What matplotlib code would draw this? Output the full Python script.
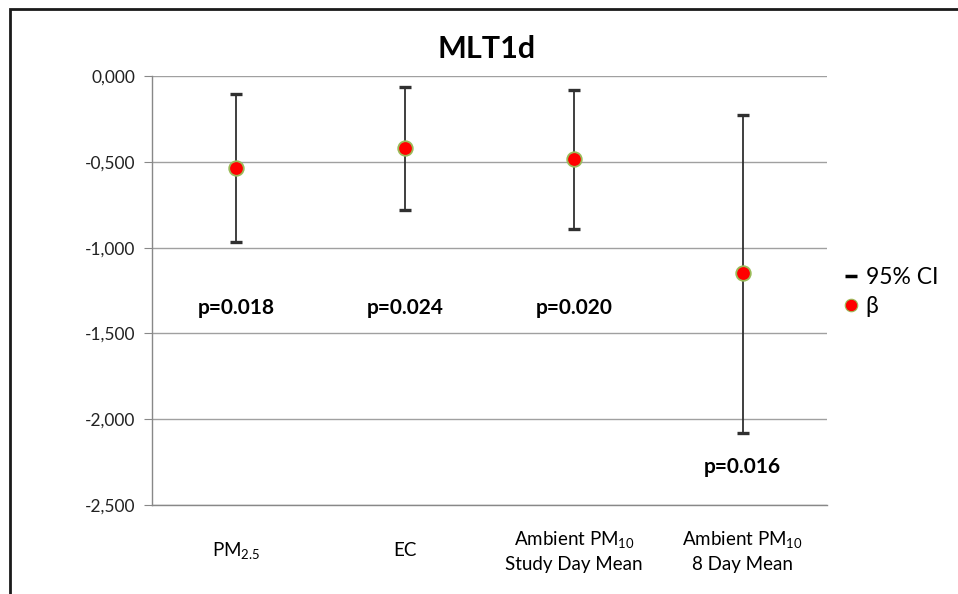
import matplotlib
matplotlib.use('Agg')
import matplotlib.pyplot as plt
from matplotlib.lines import Line2D
from matplotlib.patches import Rectangle
from matplotlib.ticker import FuncFormatter

plt.rcParams['font.family'] = ['Lato', 'DejaVu Sans']
plt.rcParams['mathtext.fontset'] = 'custom'
plt.rcParams['mathtext.rm'] = 'Lato'
plt.rcParams['mathtext.default'] = 'regular'

# data
categories = ['PM$_{2.5}$', 'EC', 'Ambient PM$_{10}$\nStudy Day Mean', 'Ambient PM$_{10}$\n8 Day Mean']
beta = [-0.536, -0.421, -0.484, -1.148]
ci_upper = [-0.105, -0.066, -0.082, -0.227]
ci_lower = [-0.970, -0.781, -0.892, -2.081]
p_labels = ['p=0.018', 'p=0.024', 'p=0.020', 'p=0.016']
p_y = [-1.352, -1.352, -1.352, -2.278]
y_ticks = [0.0, -0.5, -1.0, -1.5, -2.0, -2.5]

fig = plt.figure(figsize=(9.58, 5.94), dpi=100)
ax = fig.add_axes([0.1587, 0.1498, 0.7046, 0.7222])

x = list(range(len(categories)))
err_low = [b - lo for b, lo in zip(beta, ci_lower)]
err_high = [hi - b for b, hi in zip(beta, ci_upper)]

ax.errorbar(x, beta, yerr=[err_low, err_high], fmt='none', ecolor='#303030',
            elinewidth=1.3, capsize=4, capthick=2.4, zorder=3)
ax.plot(x, beta, 'o', color='red', markersize=10.5, markeredgecolor='#9BBB59',
        markeredgewidth=1.3, linestyle='none', zorder=4)

for xi, txt, yp in zip(x, p_labels, p_y):
    ax.text(xi, yp, txt, ha='center', va='center', fontsize=15, fontweight='bold')

ax.set_xlim(-0.5, len(categories) - 0.5)
ax.set_ylim(-2.5, 0.0)
ax.set_yticks(y_ticks)
ax.yaxis.set_major_formatter(FuncFormatter(lambda v, pos: f"{v:.3f}".replace('.', ',')))
ax.set_xticks(x)
ax.set_xticklabels(categories, fontsize=13.5, linespacing=1.45)
for lab in ax.get_xticklabels():
    lab.set_va('center')
ax.tick_params(axis='x', length=0, pad=33)
ax.tick_params(axis='y', length=6, colors='#888888', labelcolor='#222222', labelsize=12.5, pad=6)

ax.grid(axis='y', color='#a0a0a0', linewidth=1)
ax.set_axisbelow(True)
for s in ['top', 'right']:
    ax.spines[s].set_visible(False)
for s in ['left', 'bottom']:
    ax.spines[s].set_color('#888888')
    ax.spines[s].set_linewidth(1)

fig.text(0.508, 0.918, 'MLT1d', ha='center', va='center', fontsize=22, fontweight='bold')

handles = [
    Line2D([], [], color='black', marker='_', linestyle='none', markersize=8, markeredgewidth=2.5),
    Line2D([], [], color='red', marker='o', linestyle='none', markersize=9,
           markeredgecolor='#9BBB59', markeredgewidth=0.8),
]
fig.legend(handles, ['95% CI', 'β'], loc='center left', bbox_to_anchor=(0.882, 0.508),
           frameon=False, fontsize=16.5, handlelength=0.5, handletextpad=0.4, labelspacing=0.35,
           borderpad=0, borderaxespad=0)

# outer chart frame (runs off the right and bottom edges)
fig.patches.append(Rectangle((10 / 958, -0.1), 1.2, 1.1 - 9 / 594, transform=fig.transFigure,
                             fill=False, edgecolor='#1a1a1a', linewidth=2, figure=fig))

fig.savefig('out.png', dpi=100, facecolor='white')
